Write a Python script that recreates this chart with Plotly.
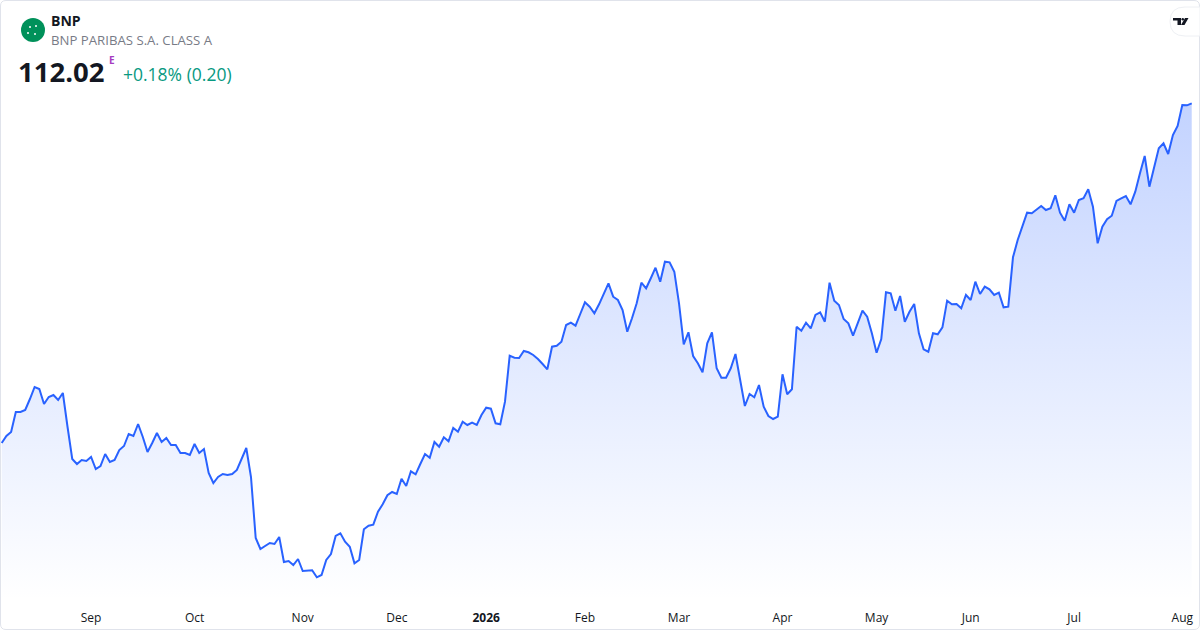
import plotly.graph_objects as go

# daily closes, Aug 2025 -> Aug 2026
close_prices = [
    78.05, 78.75, 79.15, 81.15, 81.15, 81.35, 82.45, 83.65, 83.45, 81.95,
    82.65, 82.85, 82.35, 83.05, 79.65, 76.45, 75.95, 76.35, 76.25, 76.65,
    75.45, 75.75, 76.95, 76.15, 76.35, 77.35, 77.75, 78.95, 78.75, 79.95,
    78.65, 77.15, 78.05, 79.05, 78.15, 78.55, 77.85, 77.85, 77.05, 77.05,
    76.85, 77.95, 77.05, 77.45, 75.05, 74.05, 74.65, 74.95, 74.85, 74.95,
    75.35, 76.45, 77.55, 74.65, 68.55, 67.45, 67.75, 68.05, 67.95, 68.65,
    66.15, 66.25, 65.85, 66.45,
    65.25, 65.28, 65.32, 64.62, 64.85, 66.35, 66.95, 68.75, 69.02, 68.18,
    67.68, 66.02, 66.35, 69.42, 69.78, 69.88, 71.18, 71.92, 72.82, 73.15,
    72.95, 74.48, 73.75, 75.22, 74.92, 75.95, 76.95, 76.58, 78.15, 77.68,
    78.62, 78.22, 79.55, 79.18,
    80.18, 79.85, 80.08, 79.85, 80.85, 81.58, 81.48, 80.02, 79.92, 82.18,
    86.78, 86.58, 86.55, 87.25, 87.12, 86.85, 86.45, 85.95, 85.42, 87.68,
    87.78, 88.18, 89.85, 90.08, 89.78, 90.95, 92.12, 91.68, 91.02, 91.92,
    92.95, 94.02,
    92.68, 92.35, 91.35, 89.18, 90.52, 92.02, 94.08, 93.52, 94.52, 95.58,
    94.18, 96.18, 96.12, 95.18, 92.02, 87.92, 89.12, 86.75, 86.02, 85.12,
    88.02, 89.12, 85.52, 84.58, 84.58, 85.52, 86.95, 84.35, 81.75, 82.95,
    82.62, 83.85,
    81.68, 80.75, 80.45, 80.68, 84.92, 82.92, 83.42, 89.68, 89.28, 90.08,
    89.52, 90.85, 91.12, 90.18, 94.08, 92.28, 91.85, 90.45, 90.02, 88.78,
    90.02, 91.28, 90.68, 89.02, 87.08, 88.45, 93.12, 93.02, 91.28, 92.75,
    90.18, 91.18,
    91.95, 89.02, 87.42, 87.18, 89.02, 88.92, 89.62, 92.28, 91.92, 91.95,
    91.52, 92.85, 92.35, 94.18, 92.95, 93.68, 93.42, 92.85, 93.08, 91.62,
    91.68, 96.62, 98.35, 99.68, 101.08, 101.02, 101.42, 101.75, 101.35, 101.52,
    102.82, 101.08,
    100.28, 101.92, 101.08, 102.35, 102.52, 103.42, 101.68, 98.02, 99.68, 100.42,
    100.78, 102.25, 102.52, 102.75, 101.92, 103.18, 105.02, 106.75, 103.68, 105.68,
    107.52, 108.02, 106.95, 108.85, 109.75, 111.85, 111.82, 112.02,
]

# bar index of the first session of each month
month_ticks = [19, 41, 64, 84, 103, 124, 144, 166, 186, 206, 228, 251]
month_labels = ['Sep', 'Oct', 'Nov', 'Dec', '<b>2026</b>', 'Feb', 'Mar', 'Apr', 'May', 'Jun', 'Jul', 'Aug']

ticker = 'BNP'
company = 'BNP PARIBAS S.A. CLASS A'
last_price = close_prices[-1]
change = last_price - close_prices[-2]
change_pct = change / close_prices[-2] * 100

W, H = 1200, 630
FONT = 'Open Sans'
BLUE = '#2962FF'

def px(x):
    return x / W

def py(y):
    return 1 - y / H

bars = list(range(len(close_prices)))
y_lo, y_hi = 62.35, 113.35

fig = go.Figure()
fig.add_trace(go.Scatter(
    x=bars,
    y=close_prices,
    mode='lines',
    line=dict(color=BLUE, width=2),
    fill='tozeroy',
    fillgradient=dict(
        type='vertical',
        start=y_lo,
        stop=max(close_prices),
        colorscale=[[0, 'rgba(41,98,255,0.0)'], [1, 'rgba(41,98,255,0.28)']],
    ),
    hoverinfo='skip',
))

fig.update_layout(
    width=W, height=H,
    margin=dict(l=0, r=0, t=0, b=0),
    paper_bgcolor='white',
    plot_bgcolor='rgba(0,0,0,0)',
    showlegend=False,
    font=dict(family=FONT, color='#131722'),
    xaxis=dict(
        range=[-0.361, 254.76],
        tickvals=month_ticks,
        ticktext=month_labels,
        showgrid=False, zeroline=False, showline=False,
        ticks='', tickfont=dict(size=12, color='#131722'),
        ticklabelstandoff=9,
        fixedrange=True,
    ),
    yaxis=dict(
        range=[y_lo, y_hi],
        domain=[30 / H, 540 / H],
        visible=False,
        fixedrange=True,
    ),
)

shapes = []
# outer frame with rounded corners
r = 6
shapes.append(dict(
    type='path', xref='paper', yref='paper',
    path=(f'M {px(r)},{py(0.5)} L {px(W - r)},{py(0.5)} Q {px(W - 0.5)},{py(0.5)} {px(W - 0.5)},{py(r)} '
          f'L {px(W - 0.5)},{py(H - r)} Q {px(W - 0.5)},{py(H - 0.5)} {px(W - r)},{py(H - 0.5)} '
          f'L {px(r)},{py(H - 0.5)} Q {px(0.5)},{py(H - 0.5)} {px(0.5)},{py(H - r)} '
          f'L {px(0.5)},{py(r)} Q {px(0.5)},{py(0.5)} {px(r)},{py(0.5)} Z'),
    line=dict(color='#E0E3EB', width=1), fillcolor='rgba(0,0,0,0)', layer='above',
))
# company logo
shapes.append(dict(type='circle', xref='paper', yref='paper',
                   x0=px(21), x1=px(45), y0=py(42), y1=py(18),
                   fillcolor='#00915A', line=dict(width=0)))
for cx, cy in [(30, 27), (36, 26), (28, 33), (35, 34)]:
    shapes.append(dict(type='circle', xref='paper', yref='paper',
                       x0=px(cx - 1), x1=px(cx + 1), y0=py(cy + 1), y1=py(cy - 1),
                       fillcolor='white', line=dict(width=0)))
# tradingview badge
shapes.append(dict(
    type='path', xref='paper', yref='paper',
    path=f'M {px(1185)},{py(7)} L {px(1200)},{py(7)} L {px(1200)},{py(36)} L {px(1185)},{py(36)} '
         f'Q {px(1170)},{py(36)} {px(1170)},{py(21.5)} Q {px(1170)},{py(7)} {px(1185)},{py(7)} Z',
    fillcolor='white', line=dict(color='#EEF0F4', width=1),
))
shapes.append(dict(
    type='path', xref='paper', yref='paper',
    path=f'M {px(1173)},{py(18)} L {px(1181)},{py(18)} L {px(1181)},{py(25)} L {px(1177.5)},{py(25)} '
         f'L {px(1177.5)},{py(20.5)} L {px(1173)},{py(20.5)} Z',
    fillcolor='#131722', line=dict(width=0),
))
shapes.append(dict(type='circle', xref='paper', yref='paper',
                   x0=px(1181.5), x1=px(1184), y0=py(20.5), y1=py(18),
                   fillcolor='#131722', line=dict(width=0)))
shapes.append(dict(
    type='path', xref='paper', yref='paper',
    path=f'M {px(1185)},{py(18)} L {px(1188.5)},{py(18)} L {px(1184.5)},{py(25)} L {px(1181)},{py(25)} Z',
    fillcolor='#131722', line=dict(width=0),
))
fig.update_layout(shapes=shapes)

def label(text, x, y, size, color, anchor='left'):
    fig.add_annotation(text=text, xref='paper', yref='paper', x=px(x), y=py(y),
                       xanchor=anchor, yanchor='middle', showarrow=False,
                       font=dict(family=FONT, size=size, color=color))

label(f'<b>{ticker}</b>', 49, 20, 14, '#131722')
label(company, 49, 40, 13.2, '#787B86')
label(f'<b>{last_price:.2f}</b>', 16, 71, 27.5, '#131722')
label('<b>E</b>', 107, 60, 10, '#A53CC0')
label(f'+{change_pct:.2f}% ({change:.2f})', 121, 74, 17.5, '#089981')

# drop the default 8px page margin so the figure sits flush in the window
fig.write_html('out.html', config={'displayModeBar': False},
               post_script="document.body.style.margin='0';")
